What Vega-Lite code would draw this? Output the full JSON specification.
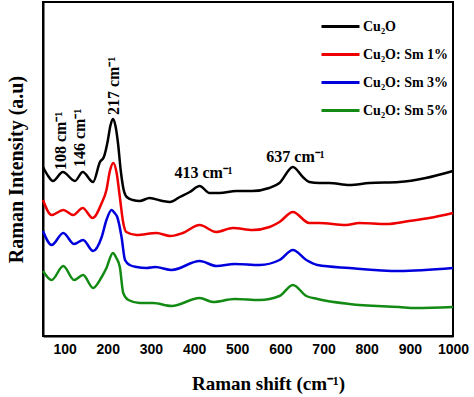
{
  "$schema": "https://vega.github.io/schema/vega-lite/v6.json",
  "width": 410,
  "height": 334,
  "autosize": "none",
  "padding": {"left": 43, "top": 2, "right": 21, "bottom": 61},
  "background": "white",
  "config": {
    "view": {"stroke": "black", "strokeWidth": 2},
    "legend": {
      "symbolType": "stroke",
      "symbolStrokeWidth": 3,
      "symbolSize": 1444,
      "labelFont": "Liberation Serif",
      "labelFontWeight": "bold",
      "labelFontSize": 14,
      "labelColor": "black",
      "labelOffset": 2,
      "rowPadding": -15
    }
  },
  "data": {
    "values": [
      {"sample": "Cu₂O", "shift": 50, "intensity": 169},
      {"sample": "Cu₂O", "shift": 62, "intensity": 160},
      {"sample": "Cu₂O", "shift": 73, "intensity": 155},
      {"sample": "Cu₂O", "shift": 96, "intensity": 164},
      {"sample": "Cu₂O", "shift": 124, "intensity": 155},
      {"sample": "Cu₂O", "shift": 142, "intensity": 164},
      {"sample": "Cu₂O", "shift": 166, "intensity": 154},
      {"sample": "Cu₂O", "shift": 182, "intensity": 174},
      {"sample": "Cu₂O", "shift": 191, "intensity": 179},
      {"sample": "Cu₂O", "shift": 200, "intensity": 195},
      {"sample": "Cu₂O", "shift": 206, "intensity": 210},
      {"sample": "Cu₂O", "shift": 212, "intensity": 217},
      {"sample": "Cu₂O", "shift": 218, "intensity": 210},
      {"sample": "Cu₂O", "shift": 224, "intensity": 192},
      {"sample": "Cu₂O", "shift": 230, "intensity": 166},
      {"sample": "Cu₂O", "shift": 236, "intensity": 148},
      {"sample": "Cu₂O", "shift": 244, "intensity": 139},
      {"sample": "Cu₂O", "shift": 258, "intensity": 136},
      {"sample": "Cu₂O", "shift": 274, "intensity": 135},
      {"sample": "Cu₂O", "shift": 297, "intensity": 138},
      {"sample": "Cu₂O", "shift": 327, "intensity": 135},
      {"sample": "Cu₂O", "shift": 344, "intensity": 134},
      {"sample": "Cu₂O", "shift": 367, "intensity": 139},
      {"sample": "Cu₂O", "shift": 390, "intensity": 144},
      {"sample": "Cu₂O", "shift": 413, "intensity": 150},
      {"sample": "Cu₂O", "shift": 436, "intensity": 143},
      {"sample": "Cu₂O", "shift": 459, "intensity": 143},
      {"sample": "Cu₂O", "shift": 498, "intensity": 145},
      {"sample": "Cu₂O", "shift": 535, "intensity": 145},
      {"sample": "Cu₂O", "shift": 574, "intensity": 148},
      {"sample": "Cu₂O", "shift": 598, "intensity": 153},
      {"sample": "Cu₂O", "shift": 629, "intensity": 169},
      {"sample": "Cu₂O", "shift": 652, "intensity": 159},
      {"sample": "Cu₂O", "shift": 667, "intensity": 154},
      {"sample": "Cu₂O", "shift": 690, "intensity": 153},
      {"sample": "Cu₂O", "shift": 713, "intensity": 153},
      {"sample": "Cu₂O", "shift": 760, "intensity": 151},
      {"sample": "Cu₂O", "shift": 806, "intensity": 153},
      {"sample": "Cu₂O", "shift": 875, "intensity": 154},
      {"sample": "Cu₂O", "shift": 937, "intensity": 158},
      {"sample": "Cu₂O", "shift": 1000, "intensity": 165},

      {"sample": "Cu₂O: Sm 1%", "shift": 50, "intensity": 136},
      {"sample": "Cu₂O: Sm 1%", "shift": 70, "intensity": 121},
      {"sample": "Cu₂O: Sm 1%", "shift": 97, "intensity": 126},
      {"sample": "Cu₂O: Sm 1%", "shift": 120, "intensity": 121},
      {"sample": "Cu₂O: Sm 1%", "shift": 142, "intensity": 128},
      {"sample": "Cu₂O: Sm 1%", "shift": 165, "intensity": 118},
      {"sample": "Cu₂O: Sm 1%", "shift": 186, "intensity": 133},
      {"sample": "Cu₂O: Sm 1%", "shift": 197, "intensity": 146},
      {"sample": "Cu₂O: Sm 1%", "shift": 205, "intensity": 165},
      {"sample": "Cu₂O: Sm 1%", "shift": 213, "intensity": 173},
      {"sample": "Cu₂O: Sm 1%", "shift": 221, "intensity": 162},
      {"sample": "Cu₂O: Sm 1%", "shift": 228, "intensity": 139},
      {"sample": "Cu₂O: Sm 1%", "shift": 236, "intensity": 113},
      {"sample": "Cu₂O: Sm 1%", "shift": 243, "intensity": 104},
      {"sample": "Cu₂O: Sm 1%", "shift": 267, "intensity": 101},
      {"sample": "Cu₂O: Sm 1%", "shift": 313, "intensity": 103},
      {"sample": "Cu₂O: Sm 1%", "shift": 345, "intensity": 100},
      {"sample": "Cu₂O: Sm 1%", "shift": 374, "intensity": 103},
      {"sample": "Cu₂O: Sm 1%", "shift": 413, "intensity": 111},
      {"sample": "Cu₂O: Sm 1%", "shift": 451, "intensity": 104},
      {"sample": "Cu₂O: Sm 1%", "shift": 490, "intensity": 108},
      {"sample": "Cu₂O: Sm 1%", "shift": 536, "intensity": 106},
      {"sample": "Cu₂O: Sm 1%", "shift": 575, "intensity": 109},
      {"sample": "Cu₂O: Sm 1%", "shift": 598, "intensity": 114},
      {"sample": "Cu₂O: Sm 1%", "shift": 629, "intensity": 124},
      {"sample": "Cu₂O: Sm 1%", "shift": 667, "intensity": 113},
      {"sample": "Cu₂O: Sm 1%", "shift": 690, "intensity": 113},
      {"sample": "Cu₂O: Sm 1%", "shift": 752, "intensity": 111},
      {"sample": "Cu₂O: Sm 1%", "shift": 783, "intensity": 113},
      {"sample": "Cu₂O: Sm 1%", "shift": 845, "intensity": 112},
      {"sample": "Cu₂O: Sm 1%", "shift": 898, "intensity": 115},
      {"sample": "Cu₂O: Sm 1%", "shift": 945, "intensity": 118},
      {"sample": "Cu₂O: Sm 1%", "shift": 1000, "intensity": 123},

      {"sample": "Cu₂O: Sm 3%", "shift": 50, "intensity": 105},
      {"sample": "Cu₂O: Sm 3%", "shift": 70, "intensity": 91},
      {"sample": "Cu₂O: Sm 3%", "shift": 97, "intensity": 103},
      {"sample": "Cu₂O: Sm 3%", "shift": 122, "intensity": 92},
      {"sample": "Cu₂O: Sm 3%", "shift": 143, "intensity": 96},
      {"sample": "Cu₂O: Sm 3%", "shift": 166, "intensity": 85},
      {"sample": "Cu₂O: Sm 3%", "shift": 186, "intensity": 99},
      {"sample": "Cu₂O: Sm 3%", "shift": 197, "intensity": 116},
      {"sample": "Cu₂O: Sm 3%", "shift": 209, "intensity": 126},
      {"sample": "Cu₂O: Sm 3%", "shift": 216, "intensity": 123},
      {"sample": "Cu₂O: Sm 3%", "shift": 222, "intensity": 119},
      {"sample": "Cu₂O: Sm 3%", "shift": 232, "intensity": 99},
      {"sample": "Cu₂O: Sm 3%", "shift": 240, "intensity": 76},
      {"sample": "Cu₂O: Sm 3%", "shift": 251, "intensity": 71},
      {"sample": "Cu₂O: Sm 3%", "shift": 267, "intensity": 69},
      {"sample": "Cu₂O: Sm 3%", "shift": 290, "intensity": 68},
      {"sample": "Cu₂O: Sm 3%", "shift": 310, "intensity": 69},
      {"sample": "Cu₂O: Sm 3%", "shift": 348, "intensity": 66},
      {"sample": "Cu₂O: Sm 3%", "shift": 413, "intensity": 75},
      {"sample": "Cu₂O: Sm 3%", "shift": 452, "intensity": 70},
      {"sample": "Cu₂O: Sm 3%", "shift": 494, "intensity": 72},
      {"sample": "Cu₂O: Sm 3%", "shift": 552, "intensity": 71},
      {"sample": "Cu₂O: Sm 3%", "shift": 598, "intensity": 76},
      {"sample": "Cu₂O: Sm 3%", "shift": 629, "intensity": 86},
      {"sample": "Cu₂O: Sm 3%", "shift": 660, "intensity": 76},
      {"sample": "Cu₂O: Sm 3%", "shift": 686, "intensity": 71},
      {"sample": "Cu₂O: Sm 3%", "shift": 760, "intensity": 68},
      {"sample": "Cu₂O: Sm 3%", "shift": 875, "intensity": 65},
      {"sample": "Cu₂O: Sm 3%", "shift": 1000, "intensity": 68},

      {"sample": "Cu₂O: Sm 5%", "shift": 50, "intensity": 65},
      {"sample": "Cu₂O: Sm 5%", "shift": 70, "intensity": 56},
      {"sample": "Cu₂O: Sm 5%", "shift": 97, "intensity": 70},
      {"sample": "Cu₂O: Sm 5%", "shift": 122, "intensity": 56},
      {"sample": "Cu₂O: Sm 5%", "shift": 143, "intensity": 61},
      {"sample": "Cu₂O: Sm 5%", "shift": 166, "intensity": 48},
      {"sample": "Cu₂O: Sm 5%", "shift": 186, "intensity": 59},
      {"sample": "Cu₂O: Sm 5%", "shift": 197, "intensity": 68},
      {"sample": "Cu₂O: Sm 5%", "shift": 212, "intensity": 83},
      {"sample": "Cu₂O: Sm 5%", "shift": 220, "intensity": 78},
      {"sample": "Cu₂O: Sm 5%", "shift": 228, "intensity": 69},
      {"sample": "Cu₂O: Sm 5%", "shift": 236, "intensity": 43},
      {"sample": "Cu₂O: Sm 5%", "shift": 248, "intensity": 36},
      {"sample": "Cu₂O: Sm 5%", "shift": 274, "intensity": 33},
      {"sample": "Cu₂O: Sm 5%", "shift": 305, "intensity": 33},
      {"sample": "Cu₂O: Sm 5%", "shift": 348, "intensity": 30},
      {"sample": "Cu₂O: Sm 5%", "shift": 413, "intensity": 38},
      {"sample": "Cu₂O: Sm 5%", "shift": 444, "intensity": 34},
      {"sample": "Cu₂O: Sm 5%", "shift": 494, "intensity": 37},
      {"sample": "Cu₂O: Sm 5%", "shift": 552, "intensity": 36},
      {"sample": "Cu₂O: Sm 5%", "shift": 598, "intensity": 40},
      {"sample": "Cu₂O: Sm 5%", "shift": 629, "intensity": 51},
      {"sample": "Cu₂O: Sm 5%", "shift": 660, "intensity": 40},
      {"sample": "Cu₂O: Sm 5%", "shift": 686, "intensity": 37},
      {"sample": "Cu₂O: Sm 5%", "shift": 760, "intensity": 32},
      {"sample": "Cu₂O: Sm 5%", "shift": 875, "intensity": 29},
      {"sample": "Cu₂O: Sm 5%", "shift": 913, "intensity": 28},
      {"sample": "Cu₂O: Sm 5%", "shift": 1000, "intensity": 29}
    ]
  },
  "layer": [
    {
      "mark": {"type": "line", "strokeWidth": 2.5, "interpolate": "monotone"},
      "encoding": {
        "x": {
          "field": "shift", "type": "quantitative",
          "scale": {"domain": [50, 1000], "nice": false, "zero": false},
          "axis": {
            "title": "Raman shift (cm⁻¹)",
            "values": [100, 200, 300, 400, 500, 600, 700, 800, 900, 1000],
            "format": "d",
            "ticks": false,
            "grid": false,
            "domainColor": "black",
            "domainWidth": 2,
            "labelFont": "Liberation Sans",
            "labelFontWeight": "bold",
            "labelFontSize": 14,
            "labelColor": "black",
            "labelPadding": 6,
            "labelFlush": false,
            "titleFont": "Liberation Serif",
            "titleFontWeight": "bold",
            "titleFontSize": 19,
            "titleColor": "black",
            "titlePadding": 18,
            "titleX": 225
          }
        },
        "y": {
          "field": "intensity", "type": "quantitative",
          "scale": {"domain": [0, 334], "nice": false},
          "axis": {
            "title": "Raman Intensity (a.u)",
            "labels": false,
            "ticks": false,
            "grid": false,
            "domainColor": "black",
            "domainWidth": 2,
            "titleFont": "Liberation Serif",
            "titleFontWeight": "bold",
            "titleFontSize": 20,
            "titleColor": "black",
            "titlePadding": 17
          }
        },
        "color": {
          "field": "sample", "type": "nominal",
          "scale": {
            "domain": ["Cu₂O", "Cu₂O: Sm 1%", "Cu₂O: Sm 3%", "Cu₂O: Sm 5%"],
            "range": ["#000000", "#ee0000", "#0000dd", "#138a13"]
          },
          "legend": {"title": null, "orient": "top-right", "offset": 0, "padding": 4}
        }
      }
    },
    {
      "data": {
        "values": [
          {"shift": 92, "intensity": 166, "label": "108 cm⁻¹"},
          {"shift": 136, "intensity": 169, "label": "146 cm⁻¹"},
          {"shift": 214, "intensity": 221, "label": "217 cm⁻¹"}
        ]
      },
      "mark": {"type": "text", "angle": 270, "align": "left", "baseline": "middle", "font": "Liberation Serif", "fontWeight": "bold", "fontSize": 16, "color": "black"},
      "encoding": {
        "x": {"field": "shift", "type": "quantitative"},
        "y": {"field": "intensity", "type": "quantitative"},
        "text": {"field": "label"}
      }
    },
    {
      "data": {
        "values": [
          {"shift": 422, "intensity": 158, "label": "413 cm⁻¹"},
          {"shift": 635, "intensity": 174, "label": "637 cm⁻¹"}
        ]
      },
      "mark": {"type": "text", "align": "center", "baseline": "alphabetic", "font": "Liberation Serif", "fontWeight": "bold", "fontSize": 16, "color": "black"},
      "encoding": {
        "x": {"field": "shift", "type": "quantitative"},
        "y": {"field": "intensity", "type": "quantitative"},
        "text": {"field": "label"}
      }
    }
  ]
}
